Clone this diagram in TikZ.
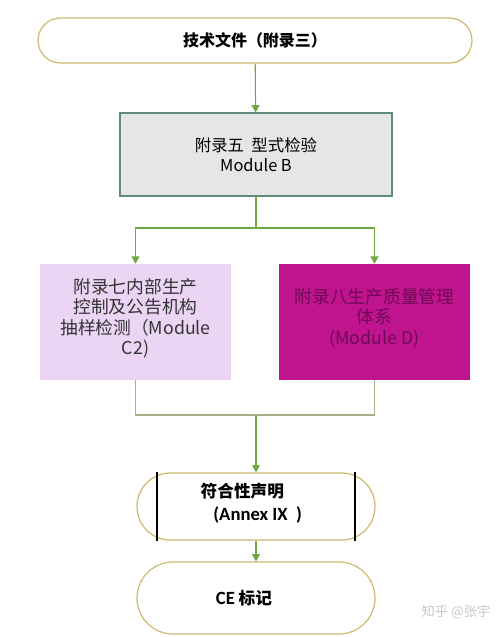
\documentclass[tikz,border=0pt]{standalone}
\usepackage{fontspec}
\setmainfont{Noto Sans CJK SC}
\newfontfamily\carlito{Carlito}
\usetikzlibrary{arrows.meta,positioning}

\definecolor{goldline}{RGB}{205,185,110}
\definecolor{flowgreen}{RGB}{112,168,70}
\definecolor{tealline}{RGB}{95,140,125}
\definecolor{boxgray}{RGB}{230,230,230}
\definecolor{lilac}{RGB}{236,212,244}
\definecolor{magenta}{RGB}{192,20,142}
\definecolor{plumtext}{RGB}{110,10,85}
\definecolor{oliveline}{RGB}{170,175,140}

\tikzset{
  terminal/.style={draw=goldline, line width=0.9pt, minimum width=#1, align=center},
  module/.style={minimum width=143.25pt, minimum height=87pt, align=center,
    font=\fontsize{13.3pt}{15.4pt}\selectfont},
  flow/.style={draw=flowgreen, line width=0.8pt, -{Triangle[width=6pt,length=5.5pt]}},
  joinline/.style={draw=oliveline, line width=0.8pt}
}

\begin{document}
\begin{tikzpicture}[x=0.75pt,y=-0.75pt]
        \useasboundingbox (0,0) rectangle (502,637);
        \def\pillw{178.5pt}

        % top and bottom terminals
        \node[terminal=325.5pt, minimum height=33.75pt, rounded corners=16.8pt,
          font=\bfseries\fontsize{12pt}{14pt}\selectfont] (tech) at (255,40.5) {技术文件（附录三）};

        \node[draw=tealline, line width=0.8pt, fill=boxgray, minimum width=204pt, minimum height=62.25pt,
          align=center, font=\fontsize{12.3pt}{14.5pt}\selectfont] (typeB) at (256,154.5)
          {附录五\ \ 型式检验\\Module B};

        \node[module, fill=lilac, text=black!80] (modC) at (135.5,322)
          {附录七内部生产\\控制及公告机构\\抽样检测（Module\\C2)\\[-7pt]};
        \node[module, fill=magenta, text=plumtext] (modD) at (374.5,322)
          {附录八生产质量管理\\体系\\(Module D)\\[-7pt]};

        \node[terminal=\pillw, minimum height=50.25pt, rounded corners=25pt] (annex) at (256,506.5) {};
        \draw[black, line width=1.3pt] ([xshift=-74.25pt]annex.north) -- ([xshift=-74.25pt]annex.south)
          ([xshift=74.25pt]annex.north) -- ([xshift=74.25pt]annex.south);
        \node[anchor=west, align=left, font=\bfseries\fontsize{12.5pt}{17pt}\selectfont] (annexlbl) at (196,503.5)
          {符合性声明\\\hspace*{9.5pt}{\carlito\fontsize{14pt}{17pt}\selectfont(Annex IX\ \ )}};

        \node[terminal=\pillw, minimum height=54pt, rounded corners=27pt] (ce) at (256,598) {};
        \node[font=\bfseries\fontsize{12.5pt}{14pt}\selectfont] (celbl) at (244,598)
          {{\carlito\fontsize{14pt}{14pt}\selectfont CE} 标记};

        % connectors
        \coordinate (split) at (256,228);
        \coordinate (merge) at (256,415);
        \draw[flow] (tech) -- (typeB);
        \draw[draw=flowgreen, line width=0.8pt] (typeB.south) -- (split);
        \foreach \m in {modC,modD}
          \draw[flow] (split) -| (\m.north);
        \foreach \m in {modC,modD}
          \draw[joinline] (\m.south) |- (merge);
        \draw[flow] (merge) -- (annex.north);
        \draw[flow] (annex.south) -- (ce.north);

        \node[text=black!22, font=\fontsize{10pt}{12pt}\selectfont] (mark) at (456,612) {知乎 @张宇};
      \end{tikzpicture}
\end{document}
